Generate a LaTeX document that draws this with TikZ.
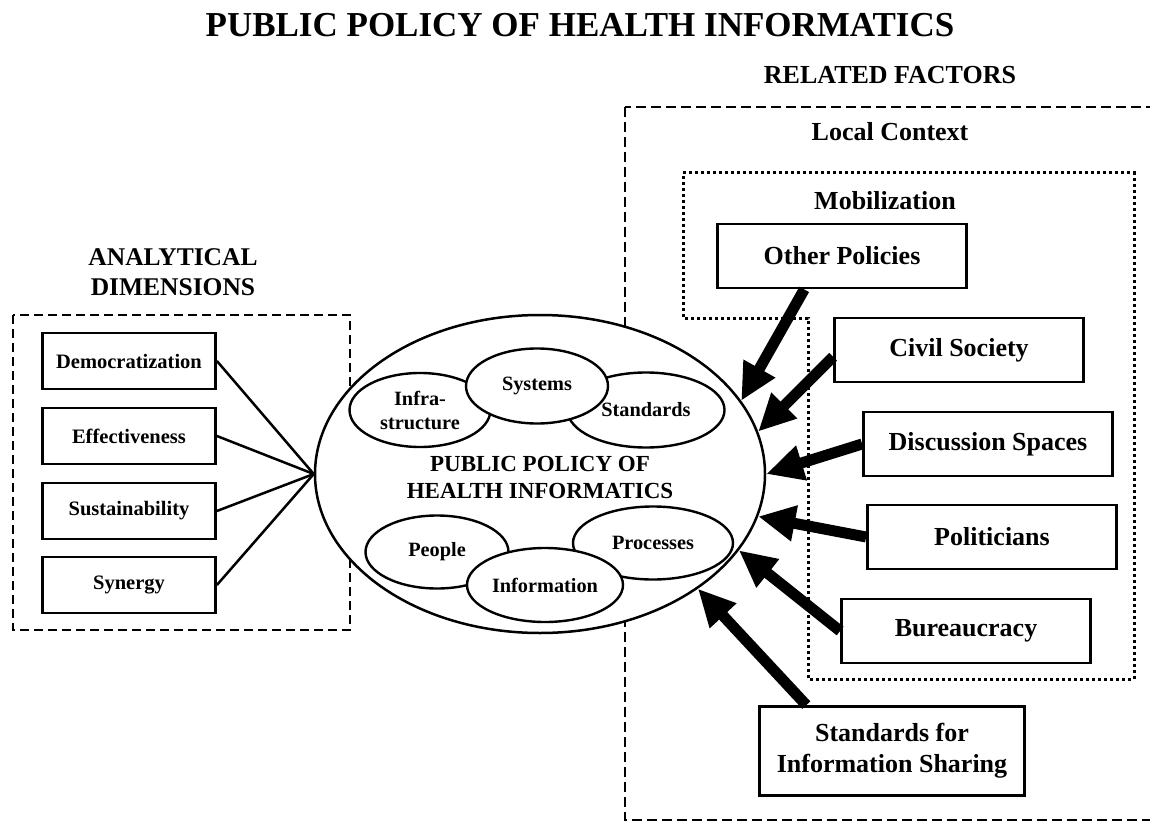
\documentclass[tikz,border=0pt]{standalone}
\usepackage{fontspec}
\setmainfont{Liberation Serif}
\usetikzlibrary{arrows.meta,shapes.geometric,calc}
\newcommand\fsz[2]{\fontsize{#1}{#2}\selectfont\bfseries}
\begin{document}
\begin{tikzpicture}[x=1pt,y=-1pt,
  every node/.style={inner sep=0pt},
  lbl/.style={font=\fsz{26}{30}, align=center},
  rbox/.style={draw,line width=2.8pt,fill=white,minimum width=249pt,minimum height=64pt,font=\fsz{26}{31},align=center},
  lbox/.style={draw,line width=2.8pt,fill=white,minimum width=173pt,minimum height=56pt,font=\fsz{20.5}{23}},
  oval/.style={draw,ellipse,line width=2.4pt,fill=white,font=\fsz{20.3}{24},align=center},
  dashframe/.style={line width=2.8pt,dash pattern=on 10pt off 5pt},
  dotframe/.style={line width=3pt,dash pattern=on 3pt off 3pt},
  thinlink/.style={line width=2.5pt},
  bigarrow/.style={line width=11pt,-{Triangle[width=34pt,length=37pt]}},
]
\useasboundingbox (0,0) rectangle (1150,821);
\clip (0,0) rectangle (1150,821);
\fill[white] (0,0) rectangle (1150,821);

% titles
\node[font=\fsz{35}{40}] (title) at (580,25) {PUBLIC POLICY OF HEALTH INFORMATICS};
\node[lbl] (related) at (890,75) {RELATED FACTORS};
\node[lbl,font=\fsz{25.5}{30}] (analytical) at (173,272) {ANALYTICAL\\DIMENSIONS};

% frames
\draw[dashframe] (625,107) rectangle (1175,820);
\draw[dotframe] (683,173) -- (1134,173) -- (1134,679) -- (808,679) -- (808,318) -- (683,318) -- cycle;
\draw[dashframe,dash pattern=on 9pt off 5pt] (13,315) rectangle (350,630);

\node[lbl] (local) at (890,132) {Local Context};
\node[lbl] (mobil) at (885,201) {Mobilization};

% analytical dimensions
\node[lbox] (dem) at (129,361) {Democratization};
\node[lbox] (eff) at (129,436) {Effectiveness};
\node[lbox] (sus) at (129,511) {Sustainability};
\node[lbox] (syn) at (129,585) {Synergy};

% central ellipse
\node[draw,ellipse,line width=2.5pt,fill=white,minimum width=450pt,minimum height=318pt] (pp) at (540,474) {};

\foreach \b in {dem,eff,sus,syn} \draw[thinlink] (\b.east) -- (pp.west);

\node[oval,minimum width=141pt,minimum height=74pt] (infra) at (420,410) {Infra-\\structure};
\node[oval,minimum width=157pt,minimum height=75pt] (stds) at (646,410) {Standards};
\node[oval,minimum width=142pt,minimum height=75pt] (sys) at (537,386) {Systems};
\node[oval,minimum width=143pt,minimum height=73pt] (people) at (437,552) {People};
\node[oval,minimum width=160pt,minimum height=73pt] (proc) at (653,543) {Processes};
\node[oval,minimum width=156pt,minimum height=74pt] (info) at (545,585) {Information};

\node[font=\fsz{23}{27},align=center] (center) at (540,477) {PUBLIC POLICY OF\\HEALTH INFORMATICS};

% related factors
\node[rbox] (op) at (842,256) {Other Policies};
\node[rbox] (civ) at (959,350) {Civil Society};
\node[rbox] (disc) at (988,444) {Discussion Spaces};
\node[rbox] (pol) at (992,537) {Politicians};
\node[rbox] (bur) at (966,631) {Bureaucracy};
\node[rbox,minimum width=265pt,minimum height=89pt] (sis) at (892,751) {Standards for\\Information Sharing};

% arrows
\coordinate (opS) at ($(op.south west)!0.35!(op.south east)$);
\coordinate (civW) at ($(civ.north west)!0.6!(civ.south west)$);
\coordinate (sisN) at ($(sis.north west)!0.18!(sis.north east)$);
\draw[bigarrow] (opS) -- (pp.20);
\draw[bigarrow] (civW) -- (pp.11);
\draw[bigarrow] (disc.west) -- (pp.0);
\draw[bigarrow] (pol.west) -- (pp.-11);
\draw[bigarrow] (bur.west) -- (pp.-21);
\draw[bigarrow] (sisN) -- (pp.-36);
\end{tikzpicture}
\end{document}
